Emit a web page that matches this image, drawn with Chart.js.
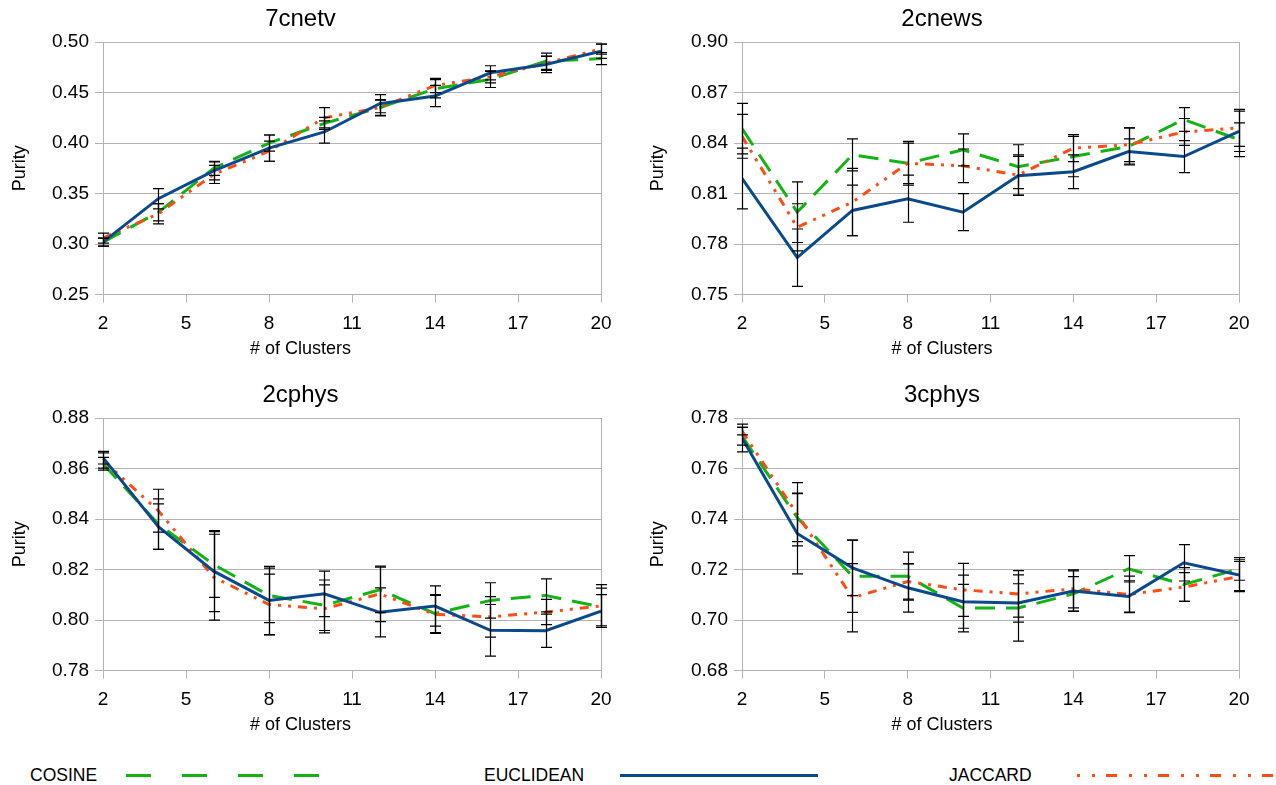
<!DOCTYPE html>
<html>
<head>
<meta charset="utf-8">
<script src="https://cdn.jsdelivr.net/npm/chart.js@4.4.1/dist/chart.umd.min.js"></script>
<style>
  body { margin: 0; background: #fff; width: 1276px; height: 785px; overflow: hidden; position: relative; font-family: "Liberation Sans", Arial, sans-serif; }
  canvas { position: absolute; }
  .leg { position: absolute; top: 764px; font-size: 17.5px; line-height: 22px; color: #000; }
  svg.line { position: absolute; top: 770px; }
</style>
</head>
<body>
<canvas id="c1" width="645" height="376" style="left:0;top:0"></canvas>
<canvas id="c2" width="631" height="376" style="left:645px;top:0"></canvas>
<canvas id="c3" width="645" height="376" style="left:0;top:376px"></canvas>
<canvas id="c4" width="631" height="376" style="left:645px;top:376px"></canvas>

<div class="leg" style="left:30px">COSINE</div>
<svg class="line" style="left:126px" width="194" height="12"><line x1="0" y1="5.5" x2="194" y2="5.5" stroke="#14b314" stroke-width="3" stroke-dasharray="25 31"/></svg>
<div class="leg" style="left:484px">EUCLIDEAN</div>
<svg class="line" style="left:620px" width="198" height="12"><line x1="0" y1="5.5" x2="198" y2="5.5" stroke="#0a4a8c" stroke-width="3"/></svg>
<div class="leg" style="left:949px">JACCARD</div>
<svg class="line" style="left:1077px" width="199" height="12"><line x1="0" y1="5.5" x2="199" y2="5.5" stroke="#ff4c14" stroke-width="3" stroke-dasharray="3 12 3 11 11 12"/></svg>

<script>
// number of clusters on the x axis
const clusters = [2, 4, 6, 8, 10, 12, 14, 16, 18, 20];

// 7cnetv
const cosine7cnetv    = [0.302, 0.3315, 0.375, 0.400, 0.4195, 0.435, 0.4537, 0.463, 0.481, 0.4836];
const euclidean7cnetv = [0.302, 0.345, 0.3725, 0.395, 0.411, 0.439, 0.4465, 0.4695, 0.4777, 0.4908];
const jaccard7cnetv   = [0.306, 0.330, 0.369, 0.392, 0.425, 0.435, 0.457, 0.4655, 0.479, 0.493];
const cosine7cnetvErr    = [0.004, 0.0085, 0.007, 0.008, 0.006, 0.008, 0.009, 0.008, 0.008, 0.006];
const euclidean7cnetvErr = [0.004, 0.010, 0.009, 0.013, 0.011, 0.009, 0.0105, 0.007, 0.008, 0.007];
const jaccard7cnetvErr   = [0.005, 0.010, 0.009, 0.010, 0.010, 0.0075, 0.007, 0.006, 0.007, 0.005];

// 2cnews
const cosine2cnews    = [0.8486, 0.799, 0.833, 0.828, 0.836, 0.826, 0.832, 0.838, 0.854, 0.842];
const euclidean2cnews = [0.819, 0.772, 0.800, 0.807, 0.799, 0.8206, 0.823, 0.835, 0.832, 0.847];
const jaccard2cnews   = [0.844, 0.790, 0.805, 0.828, 0.8265, 0.821, 0.837, 0.839, 0.8466, 0.849];
const cosine2cnewsErr    = [0.015, 0.018, 0.0095, 0.013, 0.0095, 0.013, 0.012, 0.011, 0.007, 0.010];
const euclidean2cnewsErr = [0.018, 0.017, 0.015, 0.014, 0.011, 0.0115, 0.010, 0.0075, 0.0095, 0.012];
const jaccard2cnewsErr   = [0.013, 0.014, 0.020, 0.012, 0.010, 0.012, 0.008, 0.010, 0.008, 0.011];

// 2cphys
const cosine2cphys    = [0.8619, 0.838, 0.822, 0.8098, 0.8059, 0.812, 0.8026, 0.8078, 0.8098, 0.8052];
const euclidean2cphys = [0.8643, 0.837, 0.8194, 0.8078, 0.8104, 0.8031, 0.8056, 0.796, 0.7958, 0.8036];
const jaccard2cphys   = [0.8632, 0.8433, 0.817, 0.8062, 0.8045, 0.8104, 0.8023, 0.8013, 0.8032, 0.8056];
const cosine2cphysErr    = [0.0025, 0.010, 0.013, 0.0108, 0.010, 0.009, 0.0075, 0.007, 0.0065, 0.0075];
const euclidean2cphysErr = [0.0025, 0.009, 0.016, 0.0135, 0.009, 0.0097, 0.008, 0.0102, 0.0066, 0.0065];
const jaccard2cphysErr   = [0.003, 0.0085, 0.017, 0.012, 0.0095, 0.011, 0.0075, 0.008, 0.005, 0.0085];

// 3cphys
const cosine3cphys    = [0.7728, 0.7406, 0.7174, 0.7174, 0.7048, 0.7048, 0.7104, 0.7203, 0.7141, 0.7203];
const euclidean3cphys = [0.7721, 0.7343, 0.7207, 0.7128, 0.7073, 0.7068, 0.7115, 0.7094, 0.7227, 0.7179];
const jaccard3cphys   = [0.7748, 0.7419, 0.7089, 0.7153, 0.712, 0.7104, 0.7124, 0.7102, 0.7131, 0.7173];
const cosine3cphysErr    = [0.0035, 0.0095, 0.0143, 0.0095, 0.0094, 0.0131, 0.0068, 0.0052, 0.0067, 0.0045];
const euclidean3cphysErr = [0.0055, 0.016, 0.011, 0.0096, 0.0105, 0.0076, 0.008, 0.0062, 0.0072, 0.0062];
const jaccard3cphysErr   = [0.0015, 0.0125, 0.0135, 0.007, 0.0105, 0.0092, 0.0075, 0.0072, 0.0057, 0.006];

const FONT = '"Liberation Sans", Arial, sans-serif';
const GRID = '#b3b3b3';
const GREEN = '#14b314';
const BLUE = '#0a4a8c';
const RED = '#ff4c14';

// error bars drawn on top of the lines
const errorBarPlugin = {
    id: 'errorBars',
    afterDatasetsDraw(chart) {
        const ctx = chart.ctx;
        const xs = chart.scales.x, ys = chart.scales.y;
        ctx.save();
        ctx.strokeStyle = '#000';
        ctx.lineWidth = 1.2;
        chart.data.datasets.forEach(ds => {
            ds.data.forEach((p, i) => {
                const e = ds.errors[i];
                const px = Math.round(xs.getPixelForValue(p.x)) + 0.5;
                const top = ys.getPixelForValue(p.y + e);
                const bot = ys.getPixelForValue(p.y - e);
                ctx.beginPath();
                ctx.moveTo(px, top); ctx.lineTo(px, bot);
                ctx.moveTo(px - 5.5, top); ctx.lineTo(px + 5.5, top);
                ctx.moveTo(px - 5.5, bot); ctx.lineTo(px + 5.5, bot);
                ctx.stroke();
            });
        });
        ctx.restore();
    }
};

function toPoints(values) {
    return clusters.map((c, i) => ({ x: c, y: values[i] }));
}

function buildChart(id, title, cos, euc, jac, cosErr, eucErr, jacErr, yMin, yMax, yStep, axisWidth, purityPad, rightPad) {
    const ctx = document.getElementById(id).getContext('2d');
    return new Chart(ctx, {
        type: 'line',
        data: {
            datasets: [
                { label: 'COSINE', data: toPoints(cos), errors: cosErr, borderColor: GREEN, borderWidth: 3,
                  borderDash: [20, 11], pointRadius: 0, tension: 0, order: 3 },
                { label: 'JACCARD', data: toPoints(jac), errors: jacErr, borderColor: RED, borderWidth: 3,
                  borderDash: [9, 7, 3, 7, 3, 7], pointRadius: 0, tension: 0, order: 2 },
                { label: 'EUCLIDEAN', data: toPoints(euc), errors: eucErr, borderColor: BLUE, borderWidth: 3,
                  pointRadius: 0, tension: 0, order: 1 },
            ],
        },
        options: {
            responsive: false,
            animation: false,
            layout: { padding: { left: 0, right: rightPad, top: 0, bottom: 0 } },
            plugins: {
                legend: { display: false },
                tooltip: { enabled: false },
                title: {
                    display: true, text: title, color: '#000',
                    font: { family: FONT, size: 24, weight: 'normal' },
                    padding: { top: 4.6, bottom: 8.6 },
                },
                subtitle: {
                    display: true, position: 'bottom', text: '# of Clusters', color: '#000',
                    font: { family: FONT, size: 18, weight: 'normal' },
                    padding: { top: 0, bottom: 15.7 },
                },
            },
            scales: {
                x: {
                    type: 'linear', min: 2, max: 20,
                    ticks: { stepSize: 3, color: '#000', font: { family: FONT, size: 19 }, padding: 10, maxRotation: 0, autoSkip: false },
                    grid: {
                        color: c => (c.tick && c.tick.value === 20) ? GRID : 'rgba(0,0,0,0)',
                        tickColor: GRID, tickLength: 8, lineWidth: 1,
                    },
                    border: { color: GRID },
                    afterFit: s => { s.height = 44; },
                },
                y: {
                    min: yMin, max: yMax,
                    ticks: { stepSize: yStep, color: '#000', font: { family: FONT, size: 19 }, padding: 6,
                             callback: v => v.toFixed(2) },
                    grid: { color: GRID, tickColor: GRID, tickLength: 8, lineWidth: 1 },
                    border: { color: GRID },
                    title: { display: true, text: 'Purity', color: '#000',
                             font: { family: FONT, size: 18 }, padding: { top: purityPad, bottom: 0 } },
                    afterFit: s => { s.width = axisWidth; },
                },
            },
        },
        plugins: [errorBarPlugin],
    });
}

buildChart('c1', '7cnetv', cosine7cnetv, euclidean7cnetv, jaccard7cnetv,
    cosine7cnetvErr, euclidean7cnetvErr, jaccard7cnetvErr, 0.25, 0.50, 0.05, 103, 9, 44);
buildChart('c2', '2cnews', cosine2cnews, euclidean2cnews, jaccard2cnews,
    cosine2cnewsErr, euclidean2cnewsErr, jaccard2cnewsErr, 0.75, 0.90, 0.03, 97, 2.7, 37);
buildChart('c3', '2cphys', cosine2cphys, euclidean2cphys, jaccard2cphys,
    cosine2cphysErr, euclidean2cphysErr, jaccard2cphysErr, 0.78, 0.88, 0.02, 103, 9, 44);
buildChart('c4', '3cphys', cosine3cphys, euclidean3cphys, jaccard3cphys,
    cosine3cphysErr, euclidean3cphysErr, jaccard3cphysErr, 0.68, 0.78, 0.02, 97, 2.7, 37);
</script>
</body>
</html>
